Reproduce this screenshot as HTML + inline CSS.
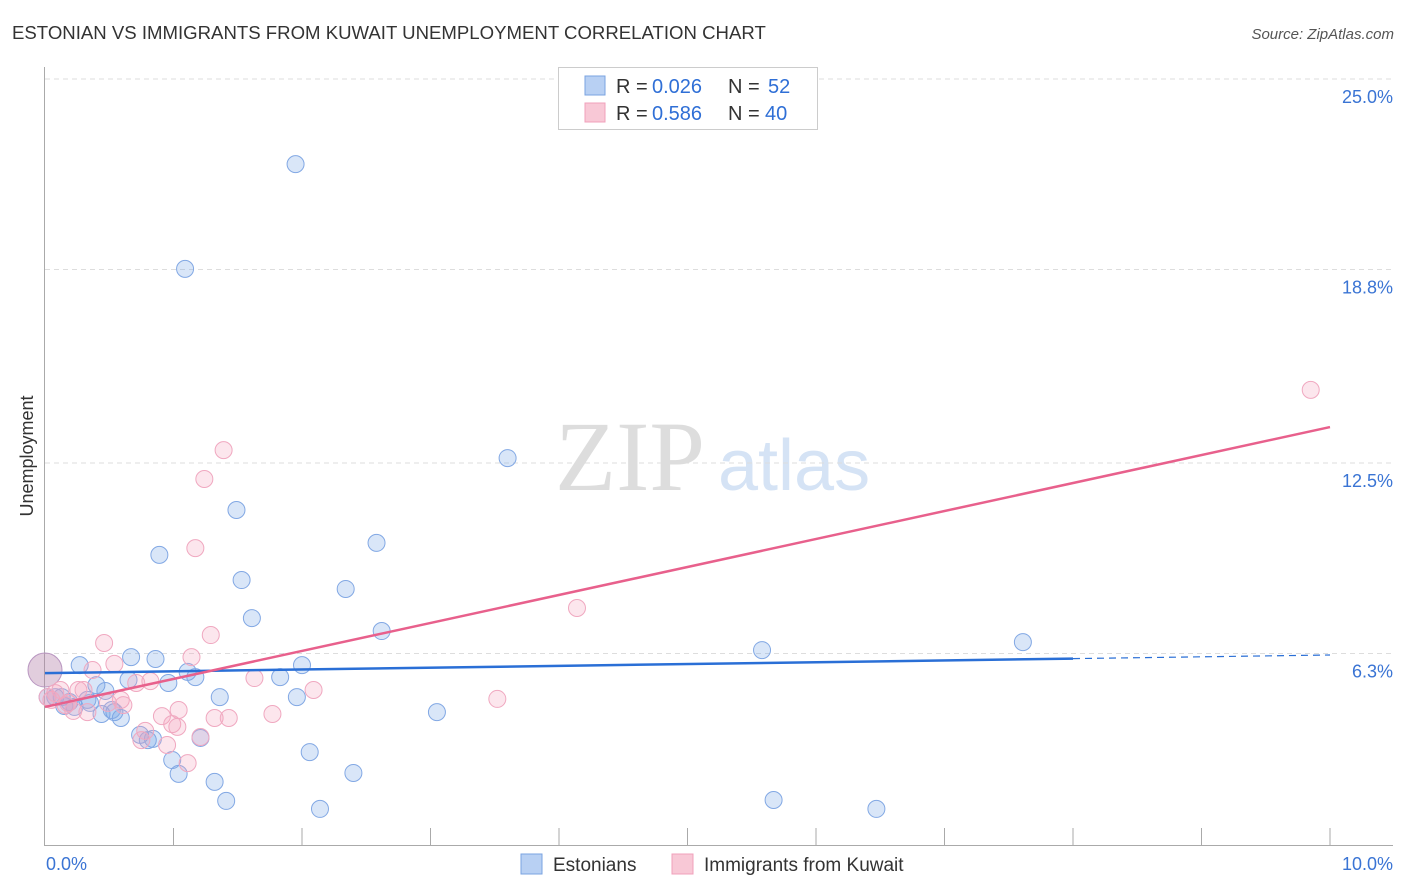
<!DOCTYPE html>
<html><head><meta charset="utf-8"><style>
body{margin:0;background:#fff;font-family:"Liberation Sans",sans-serif}
svg{display:block}
</style></head><body>
<svg id="c" width="1406" height="892" xmlns="http://www.w3.org/2000/svg">
<text x="12" y="39" font-size="18.6" fill="#333">ESTONIAN VS IMMIGRANTS FROM KUWAIT UNEMPLOYMENT CORRELATION CHART</text>
<text x="1394" y="39" font-size="15" fill="#555" font-style="italic" text-anchor="end">Source: ZipAtlas.com</text>
<text x="0" y="0" transform="translate(33,456) rotate(-90)" font-size="18" fill="#333" text-anchor="middle">Unemployment</text>
<text x="555" y="490" font-size="100" fill="#ddd" font-family="Liberation Serif,serif">ZIP</text>
<text x="718" y="490" font-size="72" fill="#d5e3f5">atlas</text>
<g id="grid"></g><g id="axes"></g><g id="pts"></g><g id="lines"></g>
<g>
<rect x="558.5" y="67.5" width="259" height="62" fill="#fff" stroke="#ccc"/>
<rect x="585" y="76" width="20" height="19" fill="#b8d0f3" stroke="#7aa3e0"/>
<rect x="585" y="103" width="20" height="19" fill="#f8c8d6" stroke="#f0a0bb"/>
<text y="93" font-size="20" fill="#333"><tspan x="616">R = </tspan><tspan x="652" fill="#2f6fd6">0.026</tspan><tspan x="728">N = </tspan><tspan x="768" fill="#2f6fd6">52</tspan></text>
<text y="120" font-size="20" fill="#333"><tspan x="616">R = </tspan><tspan x="652" fill="#2f6fd6">0.586</tspan><tspan x="728">N = </tspan><tspan x="765" fill="#2f6fd6">40</tspan></text>
</g>
<g>
<rect x="521" y="854" width="21" height="20" fill="#b8d0f3" stroke="#7aa3e0"/>
<text x="553" y="871" font-size="19" fill="#333">Estonians</text>
<rect x="672" y="854" width="21" height="20" fill="#f8c8d6" stroke="#f0a0bb"/>
<text x="704" y="871" font-size="19" fill="#333">Immigrants from Kuwait</text>
</g>
</svg>
<script>
const yTicks=[6.3,12.5,18.8,25.0];
const yTickLabels=["6.3%","12.5%","18.8%","25.0%"];
const xTickLabels=["0.0%","10.0%"];
const blueX=[1.95,1.09,3.60,1.49,2.58,0.89,1.53,2.34,1.61,2.62,7.61,5.58,0.86,0.67,0.27,2.00,1.11,1.17,1.83,0.65,0.96,0.40,0.47,1.36,1.96,0.08,0.13,0.19,0.35,3.05,0.54,0.44,0.59,0.23,0.74,0.80,0.84,1.21,0.99,2.06,1.04,2.40,1.32,1.41,5.67,2.14,6.47,0.15,0.52,0.33,0.02,0.0];
const blueY=[22.23,18.82,12.66,10.97,9.90,9.51,8.69,8.40,7.45,7.03,6.67,6.41,6.12,6.18,5.92,5.92,5.70,5.53,5.53,5.44,5.34,5.27,5.08,4.88,4.88,4.88,4.88,4.72,4.69,4.39,4.39,4.33,4.20,4.56,3.65,3.48,3.52,3.55,2.83,3.09,2.38,2.41,2.12,1.50,1.53,1.24,1.24,4.59,4.46,4.79,4.88,5.76];
const pinkX=[9.85,1.39,1.24,1.17,4.14,1.29,0.46,1.14,0.54,0.37,1.63,0.71,0.82,2.09,0.26,0.12,3.52,0.59,0.49,0.05,0.18,0.33,0.22,0.91,1.04,1.32,1.43,1.77,0.99,1.03,0.78,1.21,0.95,1.11,0.16,0.08,0.61,0.75,0.30,0.02];
const pinkY=[14.88,12.92,11.98,9.73,7.78,6.90,6.64,6.18,5.96,5.76,5.50,5.34,5.40,5.11,5.11,5.11,4.82,4.79,4.69,4.79,4.69,4.39,4.43,4.26,4.46,4.20,4.20,4.33,4.00,3.91,3.78,3.58,3.32,2.73,4.62,5.01,4.62,3.48,5.11,4.88];
const blueFit=[5.66,6.25];
const pinkFit=[4.56,13.67];
const NS="http://www.w3.org/2000/svg";
const sx=v=>45+v*128.5, sy=v=>847-v*30.72;
function mk(t,a,p){const e=document.createElementNS(NS,t);for(const k in a)e.setAttribute(k,a[k]);document.getElementById(p).appendChild(e);return e;}
yTicks.forEach((t,i)=>{
 const g=mk('line',{x1:45,x2:1393,y1:sy(t),y2:sy(t),stroke:'#ddd','stroke-dasharray':'5,4'},'grid');
 
 
 const l=mk('text',{x:1393,y:sy(t)+24,'font-size':18,fill:'#3a74d4','text-anchor':'end'},'axes');l.textContent=yTickLabels[i];
 
 
});
const topGrid=mk('line',{x1:45,x2:1393,y1:79,y2:79,stroke:'#ddd','stroke-dasharray':'5,4'},'grid');


const ya=mk('line',{x1:44.5,x2:44.5,y1:67,y2:845,stroke:'#aaa'},'axes');


const xa=mk('line',{x1:44,x2:1393,y1:845.5,y2:845.5,stroke:'#aaa'},'axes');


for(let i=1;i<=10;i++){const t=mk('line',{x1:sx(i),x2:sx(i),y1:828,y2:845,stroke:'#aaa'},'axes');
 
 }
[[0,46,'start'],[10,1393,'end']].forEach((d,i)=>{const t=mk('text',{x:d[1],y:870,'font-size':18,fill:'#3a74d4','text-anchor':d[2]},'axes');t.textContent=xTickLabels[i];
 
 });
blueX.forEach((x,i)=>{const big=i==blueX.length-1;const c=mk('circle',{cx:sx(x),cy:sy(blueY[i]),r:big?17:8.5,fill:big?'rgba(180,130,170,0.4)':'rgba(120,165,230,0.28)',stroke:big?'#b895c0':'#82a8e4','stroke-width':1},'pts');
 
 });
pinkX.forEach((x,i)=>{const c=mk('circle',{cx:sx(x),cy:sy(pinkY[i]),r:8.5,fill:'rgba(245,165,192,0.28)',stroke:'#f0a8c0','stroke-width':1},'pts');
 
 });
const bAt=v=>blueFit[0]+(blueFit[1]-blueFit[0])*v/10;
const b1=mk('line',{x1:sx(0),y1:sy(bAt(0)),x2:sx(8),y2:sy(bAt(8)),stroke:'#2a6fd6','stroke-width':2.5},'lines');


const b2=mk('line',{x1:sx(8),y1:sy(bAt(8)),x2:sx(10),y2:sy(bAt(10)),stroke:'#2a6fd6','stroke-width':1.2,'stroke-dasharray':'7,5'},'lines');


const p=mk('line',{x1:sx(0),y1:sy(pinkFit[0]),x2:sx(10),y2:sy(pinkFit[1]),stroke:'#e8608c','stroke-width':2.5},'lines');


</script>
</body></html>
